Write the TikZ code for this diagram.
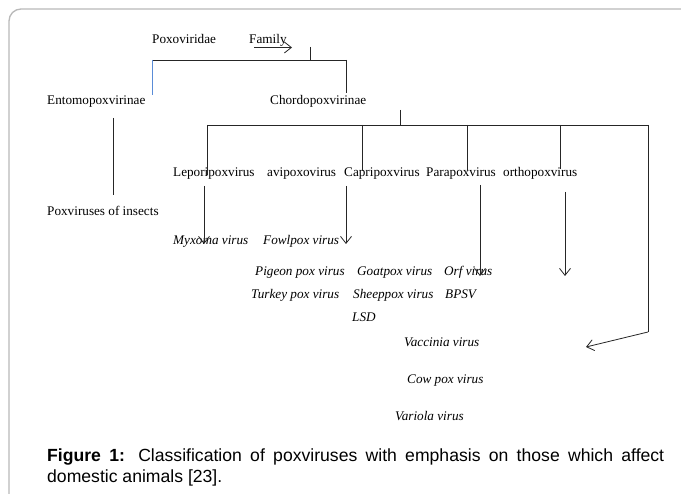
\documentclass[tikz,border=0pt]{standalone}
\usepackage{fontspec}
\setmainfont{Liberation Serif}
\newfontfamily\capfont{Liberation Sans}
\usetikzlibrary{arrows.meta}
\definecolor{framegray}{RGB}{185,185,185}
\definecolor{lineblue}{RGB}{90,140,215}
\tikzset{
  lbl/.style={anchor=base west, inner sep=0pt, font=\fontsize{13.2}{15}\selectfont},
  spc/.style={lbl, font=\fontsize{13.2}{15}\selectfont\itshape},
  captext/.style={anchor=base west, inner sep=0pt, font=\capfont\fontsize{17.6}{21}\selectfont},
  conn/.style={draw=black!85, line width=0.8pt},
  arr/.style={conn, -{Straight Barb[length=7pt,width=11pt,line width=0.8pt]}},
}
\begin{document}
\begin{tikzpicture}[x=1pt,y=-1pt]
\useasboundingbox (0,0) rectangle (681,494);
\clip (0,0) rectangle (681,494);
\fill[white] (0,0) rectangle (681,494);
\draw[framegray, line width=1.3pt, rounded corners=12pt] (9,520) -- (9,9) -- (700,9);

% texts (base line positions)
\node[lbl] (pox) at (152,43.5) {Poxoviridae};
\node[lbl] (fam) at (249,43.5) {Family};
\node[lbl] (ento) at (47,104.5) {Entomopoxvirinae};
\node[lbl] (chor) at (270,104.5) {Chordopoxvirinae};
\node[lbl] (insects) at (47,215.5) {Poxviruses of insects};
\node[lbl] (lepo) at (173,176.5) {Leporipoxvirus};
\node[lbl] (avi) at (267,176.5) {avipoxovirus};
\node[lbl] (capri) at (344,176.5) {Capripoxvirus};
\node[lbl] (para) at (426,176.5) {Parapoxvirus};
\node[lbl] (ortho) at (503,176.5) {orthopoxvirus};

\node[spc] (myx) at (173,244.5) {Myxoma virus};
\node[spc] (fowl) at (263,244.5) {Fowlpox virus};
\node[spc] (pig) at (255,275.5) {Pigeon pox virus};
\node[spc] (goat) at (357,275.5) {Goatpox virus};
\node[spc] (orf) at (444,275.5) {Orf virus};
\node[spc] (turk) at (251,298.5) {Turkey pox virus};
\node[spc] (sheep) at (353,298.5) {Sheeppox virus};
\node[spc] (bpsv) at (445,298.5) {BPSV};
\node[spc] (lsd) at (352,321.5) {LSD};
\node[spc] (vacc) at (404,346.5) {Vaccinia virus};
\node[spc] (cow) at (407,383.5) {Cow pox virus};
\node[spc] (vari) at (395,420.5) {Variola virus};

\node[captext] (cap1) at (47,462) {\makebox[617pt][s]{\textbf{Figure 1:} Classification of poxviruses with emphasis on those which affect}};
\node[captext] (cap2) at (47,483) {domestic animals [23].};

% junction coordinates
\coordinate (fa1) at (254,47.5);
\coordinate (fa2) at (292,47.5);
\coordinate (ftop) at (310,47);
\coordinate (fj) at (310,60);
\coordinate (ej) at (152,60);
\coordinate (ee) at (152,95);
\coordinate (cj) at (346,60);
\coordinate (ce) at (346,93);
\coordinate (ctop) at (400,110);
\coordinate (cjn) at (400,125);
\coordinate (g1) at (207,125);
\coordinate (g1e) at (207,175);
\coordinate (g3) at (362,125);
\coordinate (g3e) at (362,171);
\coordinate (g4) at (467,125);
\coordinate (g4e) at (467,171);
\coordinate (g5) at (560,125);
\coordinate (g5e) at (560,169);
\coordinate (g6) at (648,125);
\coordinate (g6e) at (648,332);
\coordinate (et) at (113,118);
\coordinate (eb) at (113,195);
\coordinate (a1s) at (204,186);
\coordinate (a1e) at (204,244);
\coordinate (a2s) at (346,186);
\coordinate (a2e) at (346,244);
\coordinate (a3s) at (480,185);
\coordinate (a3e) at (480,276);
\coordinate (a4s) at (565,192);
\coordinate (a4e) at (565,276);
\coordinate (a5e) at (586,347);

% connectors
\draw[arr] (fa1) -- (fa2);
\draw[conn] (ftop) -- (fj);
\draw[conn] (ej) -- (cj);
\draw[lineblue, line width=0.8pt] (ej) -- (ee);
\draw[conn] (cj) -- (ce);
\draw[conn] (ctop) -- (cjn);
\draw[conn] (g1) -- (g6);
\draw[conn] (g1) -- (g1e);
\draw[conn] (g3) -- (g3e);
\draw[conn] (g4) -- (g4e);
\draw[conn] (g5) -- (g5e);
\draw[conn] (g6) -- (g6e);
\draw[conn] (et) -- (eb);
\draw[arr] (a1s) -- (a1e);
\draw[arr] (a2s) -- (a2e);
\draw[arr] (a3s) -- (a3e);
\draw[arr] (a4s) -- (a4e);
\draw[arr] (g6e) -- (a5e);
\end{tikzpicture}
\end{document}
